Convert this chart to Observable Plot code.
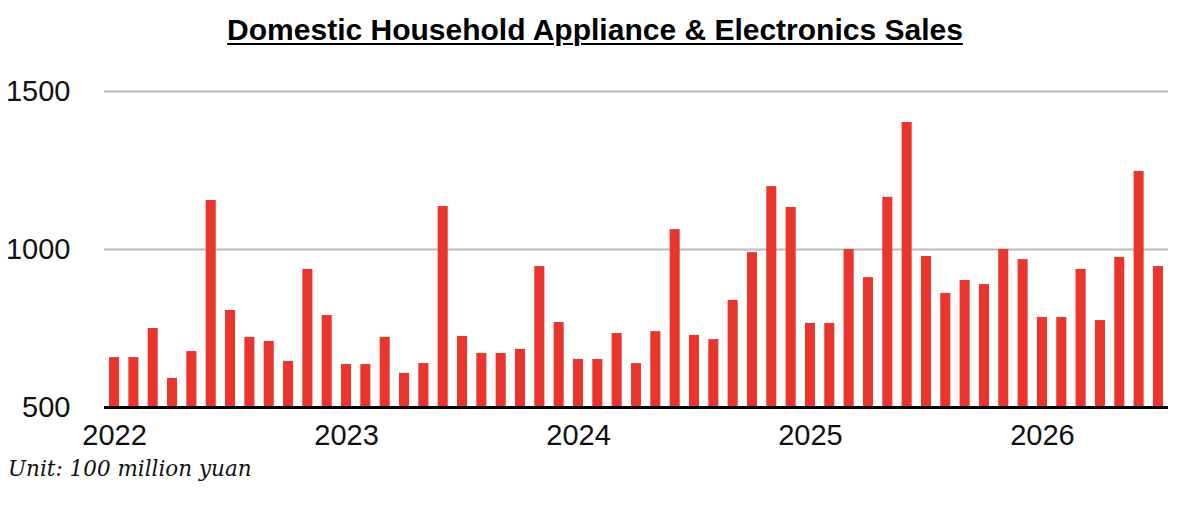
<!DOCTYPE html>
<html>
<head>
<meta charset="utf-8">
<script src="https://cdn.jsdelivr.net/npm/d3@7"></script>
<script src="https://cdn.jsdelivr.net/npm/@observablehq/plot@0.6"></script>
<style>
  html, body { margin: 0; padding: 0; background: #fff; }
  #wrap { position: relative; width: 1192px; height: 508px; overflow: hidden; }
  #title { position: absolute; left: 0; width: 1190px; top: 13px; text-align: center; line-height: normal;
    font-family: "Liberation Sans", Arial, sans-serif; font-weight: bold; font-size: 30px;
    text-decoration: underline; text-decoration-thickness: 2px; text-underline-offset: 3px; color: #000; }
  #caption { position: absolute; left: 8px; top: 456px; line-height: normal;
    font-family: "DejaVu Serif", Georgia, serif; font-style: italic; font-size: 21.5px; color: #111; }
  #chart { position: absolute; left: 0; top: 0; }
</style>
</head>
<body>
<div id="wrap">
  <div id="chart"></div>
  <div id="title">Domestic Household Appliance &amp; Electronics Sales</div>
  <div id="caption">Unit: 100 million yuan</div>
</div>
<script>
const years = ["2022", "2023", "2024", "2025", "2026"];
const sales2022 = [658, 658, 750, 592, 677, 1155, 807, 722, 709, 646, 937, 791];
const sales2023 = [636, 636, 722, 608, 639, 1136, 725, 671, 671, 684, 946, 769];
const sales2024 = [652, 652, 734, 639, 740, 1063, 728, 715, 839, 990, 1199, 1133];
const sales2025 = [766, 766, 1000, 911, 1165, 1402, 978, 861, 902, 889, 1000, 968];
const sales2026 = [785, 785, 937, 775, 975, 1247, 946];
const yTicks = [500, 1000, 1500];

const series = [sales2022, sales2023, sales2024, sales2025, sales2026];
const data = [];
series.forEach((vals, i) => vals.forEach((v, m) => data.push({
  key: years[i] + "-" + String(m + 1).padStart(2, "0"), value: v
})));
const keys = data.map(d => d.key);
const janKeys = years.map(y => y + "-01");

const chart = Plot.plot({
  width: 1192,
  height: 508,
  marginTop: 91,
  marginBottom: 101,
  marginLeft: 104,
  marginRight: 24,
  style: { fontFamily: "'Liberation Sans', Arial, sans-serif", background: "transparent", overflow: "visible" },
  x: { type: "band", domain: keys, paddingInner: 0.48, paddingOuter: 0.26, round: false, axis: null },
  y: { domain: [500, 1500], axis: null },
  marks: [
    Plot.gridY(yTicks.filter(t => t > 500), { stroke: "#b9b9b9", strokeOpacity: 1, strokeWidth: 2 }),
    Plot.barY(data, { x: "key", y1: 500, y2: "value", fill: "#e8352d" }),
    Plot.ruleY([500], { stroke: "#000", strokeWidth: 3 }),
    Plot.axisY(yTicks, { tickSize: 0, tickPadding: 34, fontSize: 29, fill: "#111", label: null,
      tickFormat: d => String(d) }),
    Plot.axisX(janKeys, { tickSize: 0, tickPadding: 17, fontSize: 29, fill: "#111", label: null,
      tickFormat: d => d.slice(0, 4) })
  ]
});
document.getElementById("chart").appendChild(chart);
</script>
</body>
</html>
